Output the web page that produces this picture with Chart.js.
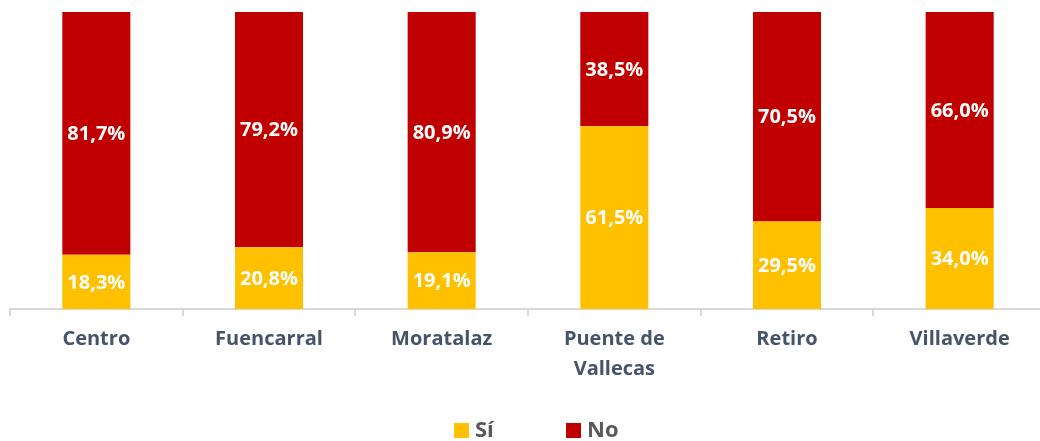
<!DOCTYPE html>
<html>
<head>
<meta charset="utf-8">
<script src="https://cdn.jsdelivr.net/npm/chart.js@4"></script>
<style>
  html, body { margin: 0; padding: 0; background: #fff; overflow: hidden; }
  #wrap { position: relative; width: 1046px; height: 441px; }
</style>
</head>
<body>
<div id="wrap"><canvas id="chart"></canvas></div>
<script>
// districts and shares (%)
const districts = ["Centro", "Fuencarral", "Moratalaz", ["Puente de", "Vallecas"], "Retiro", "Villaverde"];
const siValues = [18.3, 20.8, 19.1, 61.5, 29.5, 34.0];
const noValues = [81.7, 79.2, 80.9, 38.5, 70.5, 66.0];
const seriesNames = ["Sí", "No"];

const FONT = "'Open Sans', 'DejaVu Sans', sans-serif";

// white % labels in the middle of each segment
const barLabels = {
  id: "barLabels",
  afterDatasetsDraw(chart) {
    const ctx = chart.ctx;
    ctx.save();
    ctx.font = "bold 20px " + FONT;
    ctx.fillStyle = "#ffffff";
    ctx.textAlign = "center";
    ctx.textBaseline = "middle";
    chart.data.datasets.forEach((ds, i) => {
      chart.getDatasetMeta(i).data.forEach((bar, j) => {
        const txt = ds.data[j].toFixed(1).replace(".", ",") + "%";
        ctx.fillText(txt, bar.x, (bar.y + bar.base) / 2 + 1);
      });
    });
    ctx.restore();
  }
};

// legend drawn at the bottom, items spaced out like the original
const bottomLegend = {
  id: "bottomLegend",
  afterDraw(chart) {
    const ctx = chart.ctx;
    ctx.save();
    ctx.font = "bold 22px " + FONT;
    ctx.textBaseline = "middle";
    ctx.textAlign = "left";
    chart.data.datasets.forEach((ds, i) => {
      const x = 454 + i * 112;
      ctx.fillStyle = ds.backgroundColor;
      ctx.fillRect(x, 423, 15, 15);
      ctx.fillStyle = "#595959";
      ctx.fillText(ds.label, x + 21, 431);
    });
    ctx.restore();
  }
};

new Chart(document.getElementById("chart"), {
  type: "bar",
  data: {
    labels: districts,
    datasets: [
      { label: seriesNames[0], data: siValues, backgroundColor: "#FFC000" },
      { label: seriesNames[1], data: noValues, backgroundColor: "#C00000" }
    ]
  },
  options: {
    responsive: true,
    maintainAspectRatio: false,
    animation: false,
    layout: { padding: { left: 10, right: 0, top: 12, bottom: 0 } },
    datasets: {
      bar: { barPercentage: 0.394, categoryPercentage: 1.0, borderWidth: 0 }
    },
    plugins: {
      legend: { display: false },
      tooltip: { enabled: false }
    },
    scales: {
      x: {
        stacked: true,
        offset: true,
        grid: {
          offset: true,
          drawOnChartArea: false,
          drawTicks: true,
          tickLength: 7,
          color: "#d9d9d9",
          lineWidth: 2
        },
        border: { display: true, color: "#d9d9d9", width: 2 },
        ticks: {
          padding: 8,
          maxRotation: 0,
          autoSkip: false,
          color: "#44546A",
          font: { family: FONT, size: 20, weight: "bold", lineHeight: 1.5 }
        },
        afterFit(scale) { scale.height = 441 - 309; }
      },
      y: {
        stacked: true,
        display: false,
        min: 0,
        max: 100
      }
    }
  },
  plugins: [barLabels, bottomLegend]
});
</script>
</body>
</html>
